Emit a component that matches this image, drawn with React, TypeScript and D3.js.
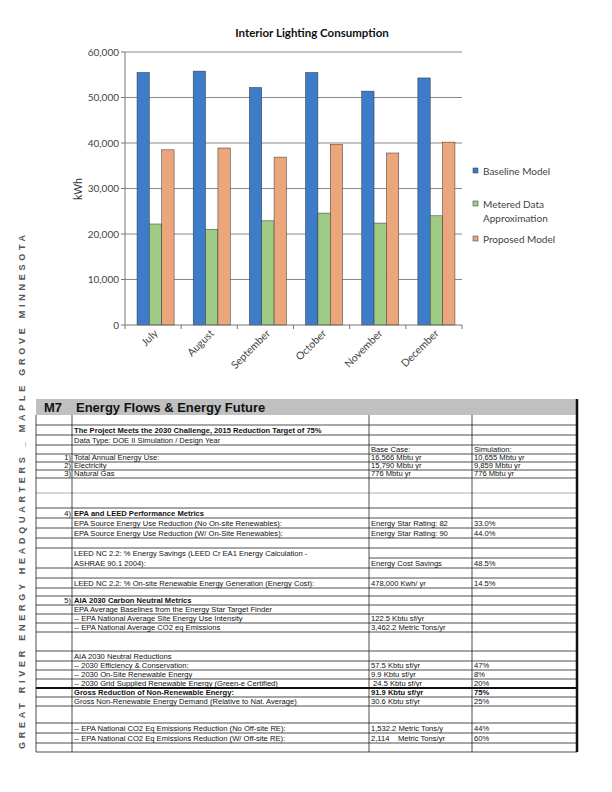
import React from "react";
import * as d3 from "d3";

// ---------- Chart data ----------
const months = ["July", "August", "September", "October", "November", "December"];
const baselineModel = [55500, 55800, 52200, 55500, 51400, 54300];
const meteredData = [22200, 21000, 22900, 24600, 22400, 24000];
const proposedModel = [38500, 38900, 36900, 39700, 37800, 40200];
const seriesKeys = ["baseline", "metered", "proposed"];
const seriesLabels = [["Baseline Model"], ["Metered Data", "Approximation"], ["Proposed Model"]];
const seriesColors = ["#3d7cc9", "#9fcb84", "#eba67b"];
const yTickValues = [0, 10000, 20000, 30000, 40000, 50000, 60000];
const chartTitle = "Interior Lighting Consumption";
const yAxisTitle = "kWh";

// ---------- Table content ----------
const tableHeaderCode = "M7";
const tableHeaderTitle = "Energy Flows & Energy Future";
const rowNums = ["", "", "", "", "1)", "2)", "3)", "", "", "4)", "", "", "", "", "", "", "", "", "5)", "", "", "", "", "", "", "", "", "", "", "", "", "", ""];
const rowLabels = [
  "",
  "The Project Meets the 2030 Challenge, 2015 Reduction Target of 75%",
  "Data Type: DOE II Simulation / Design Year",
  "",
  "Total Annual Energy Use:",
  "Electricity",
  "Natural Gas",
  "",
  "",
  "EPA and LEED Performance Metrics",
  "EPA Source Energy Use Reduction (No On-site Renewables):",
  "EPA Source Energy Use Reduction (W/ On-Site Renewables):",
  "",
  "LEED NC 2.2: % Energy Savings (LEED Cr EA1 Energy Calculation -",
  "ASHRAE 90.1 2004):",
  "",
  "LEED NC 2.2: % On-site Renewable Energy Generation (Energy Cost):",
  "",
  "AIA 2030 Carbon Neutral Metrics",
  "EPA Average Baselines from the Energy Star Target Finder",
  "-- EPA National Average Site Energy Use Intensity",
  "-- EPA National Average CO2 eq Emissions",
  "",
  "AIA 2030 Neutral Reductions",
  "-- 2030 Efficiency & Conservation:",
  "-- 2030 On-Site Renewable Energy",
  "-- 2030 Grid Supplied Renewable Energy (Green-e Certified)",
  "Gross Reduction of Non-Renewable Energy:",
  "Gross Non-Renewable Energy Demand (Relative to Nat. Average)",
  "",
  "-- EPA National CO2 Eq Emissions Reduction (No Off-site RE):",
  "-- EPA National CO2 Eq Emissions Reduction (W/ Off-site RE):",
  "",
];
const rowBase = [
  "", "", "", "Base Case:", "16,566 Mbtu yr", "15,790 Mbtu yr", "776 Mbtu yr", "", "", "",
  "Energy Star Rating: 82", "Energy Star Rating: 90", "", "", "Energy Cost Savings", "", "478,000 Kwh/ yr", "", "", "",
  "122.5 Kbtu sf/yr", "3,462.2 Metric Tons/yr", "", "", "57.5 Kbtu sf/yr", "9.9 Kbtu sf/yr", " 24.5 Kbtu sf/yr",
  "91.9 Kbtu sf/yr", "30.6 Kbtu sf/yr", "", "1,532.2 Metric Tons/y", "2,114    Metric Tons/yr", "",
];
const rowSim = [
  "", "", "", "Simulation:", "10,655 Mbtu yr", "9,859 Mbtu yr", "776 Mbtu yr", "", "", "",
  "33.0%", "44.0%", "", "", "48.5%", "", "14.5%", "", "", "",
  "", "", "", "", "47%", "8%", "20%",
  "75%", "25%", "", "44%", "60%", "",
];
const boldRows = [1, 9, 18, 27];
const sideText = "GREAT RIVER ENERGY HEADQUARTERS _ MAPLE GROVE MINNESOTA";

// ---------- Layout ----------
const rowHeights = [10, 10, 10, 9, 8, 8, 8, 15, 15, 10, 10, 10, 10, 10, 10, 10, 10, 8, 9, 9, 9, 9, 19, 10, 9, 9, 9, 9, 9, 17, 10, 10, 9];

export default function App() {
  const W = 612, H = 792;
  const plotL = 125, plotR = 462, plotT = 52, plotB = 325;
  const x0 = d3.scaleBand<string>().domain(months).range([plotL, plotR]).paddingInner(0.34).paddingOuter(0.17).align(0.63);
  const x1 = d3.scaleBand<string>().domain(seriesKeys).range([0, x0.bandwidth()]);
  const y = d3.scaleLinear().domain([0, 60000]).range([plotB, plotT]);
  const fmt = d3.format(",");
  const values = [baselineModel, meteredData, proposedModel];
  const step = x0.step();
  const boundaries = d3.range(months.length + 1).map((i) => plotL + i * step);

  // Table layout
  const tL = 36, c1 = 72, c2 = 369, c3 = 472, tR = 577;
  const headTop = 399, headBot = 415;
  const rowTops: number[] = [];
  let acc = headBot;
  rowHeights.forEach((h) => { rowTops.push(acc); acc += h; });
  const tBot = acc;
  const chartFont = "Lato, 'Open Sans', sans-serif";
  const tableFont = "'Liberation Sans', Arial, sans-serif";
  const fs = 7.6;

  return (
    <svg width={W} height={H} style={{ position: "absolute", left: 0, top: 0, background: "#fff" }}>
      <rect x={0} y={0} width={W} height={H} fill="#fff" />
      {/* Chart title */}
      <text x={312} y={37} textAnchor="middle" fontFamily={chartFont} fontWeight={700} fontSize={11.5} fill="#111">{chartTitle}</text>
      {/* gridlines */}
      {yTickValues.filter((t) => t > 0).map((t) => (
        <line key={"g" + t} x1={plotL} x2={plotR} y1={y(t)} y2={y(t)} stroke="#8a8a8a" strokeWidth={1} />
      ))}
      {/* y ticks & labels */}
      {yTickValues.map((t) => (
        <g key={"t" + t}>
          <line x1={plotL - 4} x2={plotL} y1={y(t)} y2={y(t)} stroke="#777" />
          <text x={119} y={y(t) + 3.5} textAnchor="end" fontFamily={chartFont} fontSize={10} fill="#444">{fmt(t)}</text>
        </g>
      ))}
      <text transform={`translate(82,189) rotate(-90)`} textAnchor="middle" fontFamily={chartFont} fontSize={10.5} fill="#333">{yAxisTitle}</text>
      {/* bars */}
      {months.map((m, i) => (
        <g key={m}>
          {seriesKeys.map((k, s) => (
            <rect key={k} x={(x0(m) as number) + (x1(k) as number)} y={y(values[s][i])} width={x1.bandwidth()} height={plotB - y(values[s][i])} fill={seriesColors[s]} stroke="#333" strokeWidth={0.5} />
          ))}
        </g>
      ))}
      {/* axes */}
      <line x1={plotL} x2={plotL} y1={plotT} y2={plotB} stroke="#777" />
      <line x1={plotL} x2={plotR} y1={plotB} y2={plotB} stroke="#777" />
      {boundaries.map((bx, i) => (
        <line key={"xb" + i} x1={bx} x2={bx} y1={plotB} y2={plotB + 4} stroke="#777" />
      ))}
      {months.map((m) => {
        const cx = (x0(m) as number) + x0.bandwidth() / 2 + 3;
        return (
          <text key={"xl" + m} transform={`translate(${cx},334) rotate(-45)`} textAnchor="end" fontFamily={chartFont} fontSize={10.5} fill="#444">{m}</text>
        );
      })}
      {/* legend */}
      {seriesLabels.map((lines, s) => {
        const ly = [171, 204, 239][s];
        return (
          <g key={"lg" + s}>
            <rect x={473} y={ly - 3} width={5} height={5} fill={seriesColors[s]} stroke="#333" strokeWidth={0.5} />
            {lines.map((ln, j) => (
              <text key={j} x={483} y={ly + 3.5 + j * 14} fontFamily={chartFont} fontSize={10} fill="#444">{ln}</text>
            ))}
          </g>
        );
      })}

      {/* side text */}
      <text transform="translate(25,749) rotate(-90)" textLength={514} lengthAdjust="spacing" fontFamily={tableFont} fontWeight={700} fontSize={9} fill="#555">{sideText}</text>

      {/* table header */}
      <rect x={tL} y={headTop} width={tR - tL} height={headBot - headTop} fill="#c0c0c0" />
      <text x={44} y={412} fontFamily={tableFont} fontWeight={700} fontSize={13} fill="#111">{tableHeaderCode}</text>
      <text x={76} y={412} fontFamily={tableFont} fontWeight={700} fontSize={13} fill="#111">{tableHeaderTitle}</text>
      {/* table rows */}
      {rowHeights.map((h, r) => {
        const top = rowTops[r];
        const bot = top + h;
        const bold = boldRows.includes(r);
        const by = bot - 1.6;
        const lineFull = r !== 13;
        return (
          <g key={"row" + r}>
            {lineFull ? (
              <line x1={tL} x2={tR} y1={bot} y2={bot} stroke={r === 7 ? "#999" : "#222"} strokeWidth={0.8} />
            ) : (
              <line x1={c2} x2={tR} y1={bot} y2={bot} stroke="#222" strokeWidth={0.8} />
            )}
            {rowNums[r] && (
              <text x={c1 - 1} y={by} textAnchor="end" fontFamily={tableFont} fontSize={fs} fill="#111">{rowNums[r]}</text>
            )}
            {rowLabels[r] && (
              <text x={c1 + 2} y={by} fontFamily={tableFont} fontWeight={bold ? 700 : 400} fontSize={fs} fill="#111">{rowLabels[r]}</text>
            )}
            {rowBase[r] && (
              <text x={c2 + 2} y={by} fontFamily={tableFont} fontWeight={r === 27 ? 700 : 400} fontSize={fs} fill="#111" style={{ whiteSpace: "pre" }}>{rowBase[r]}</text>
            )}
            {rowSim[r] && (
              <text x={c3 + 2} y={by} fontFamily={tableFont} fontWeight={r === 27 ? 700 : 400} fontSize={fs} fill="#111">{rowSim[r]}</text>
            )}
          </g>
        );
      })}
      {/* thick line above gross reduction */}
      <line x1={tL} x2={tR} y1={rowTops[27]} y2={rowTops[27]} stroke="#111" strokeWidth={2} />
      {/* verticals */}
      {[tL, c1, c2, c3].map((vx) => (
        <line key={"v" + vx} x1={vx} x2={vx} y1={headBot} y2={tBot} stroke="#222" strokeWidth={0.8} />
      ))}
      <line x1={tR} x2={tR} y1={headTop} y2={tBot} stroke="#111" strokeWidth={2.5} />
    </svg>
  );
}
